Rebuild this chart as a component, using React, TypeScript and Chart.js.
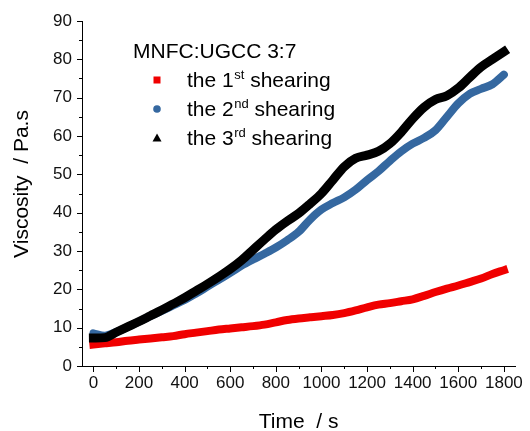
import React, { useEffect, useRef } from 'react';
import { Chart, registerables } from 'chart.js';

Chart.register(...registerables);

const times = [0, 50, 100, 150, 200, 250, 300, 350, 400, 450, 500, 550, 600, 650, 700, 750, 800, 850, 900, 950, 1000, 1050, 1100, 1150, 1200, 1250, 1300, 1350, 1400, 1450, 1500, 1550, 1600, 1650, 1700, 1750, 1800];
const shear1 = [5.6, 5.9, 6.2, 6.6, 6.9, 7.2, 7.5, 7.8, 8.3, 8.7, 9.1, 9.5, 9.8, 10.1, 10.4, 10.8, 11.4, 12.0, 12.4, 12.7, 13.0, 13.3, 13.8, 14.5, 15.3, 16.0, 16.4, 16.9, 17.4, 18.3, 19.3, 20.2, 21.0, 21.9, 22.8, 24.0, 25.0];
const shear2 = [8.5, 7.9, 8.9, 10.2, 11.6, 13.0, 14.4, 15.8, 17.2, 18.9, 20.7, 22.5, 24.3, 26.2, 27.8, 29.3, 30.9, 32.8, 35.0, 38.2, 40.8, 42.5, 44.0, 46.0, 48.5, 50.8, 53.5, 56.0, 58.0, 59.5, 61.5, 65.0, 68.5, 71.0, 72.3, 73.5, 76.0];
const shear3 = [7.3, 7.4, 8.8, 10.2, 11.6, 13.1, 14.6, 16.2, 17.8, 19.6, 21.4, 23.3, 25.3, 27.6, 30.3, 33.0, 35.6, 37.8, 39.8, 42.3, 45.0, 48.5, 52.0, 54.2, 55.0, 56.0, 58.0, 61.0, 64.5, 67.5, 69.5, 70.5, 72.5, 75.3, 78.0, 80.0, 82.0];

const legendTitle = 'MNFC:UGCC 3:7';
const legendMain = ['the 1', 'the 2', 'the 3'];
const legendSup = ['st', 'nd', 'rd'];
const legendTail = [' shearing', ' shearing', ' shearing'];
const seriesColors = ['#f00000', '#3568a0', '#000000'];
const markerShapes = ['square', 'circle', 'triangle'];

const xTitle = 'Time  / s';
const yTitle = 'Viscosity  / Pa.s';

const xMin = -50;
const xMax = 1850;
const xStep = 200;
const xMinorStep = 100;
const xTickLast = 1800;
const yMin = 0;
const yMax = 90;
const yStep = 10;
const yMinorStep = 5;

const FONT = "'Liberation Sans', Arial, sans-serif";

const decorPlugin = {
  id: 'decor',
  afterDraw(chart: any) {
    const { ctx, chartArea, scales } = chart;
    const x = scales.x;
    const y = scales.y;
    ctx.save();
    ctx.strokeStyle = '#000';
    ctx.lineWidth = 1;
    for (let v = yMin; v <= yMax + 1e-9; v += yMinorStep) {
      const py = Math.round(y.getPixelForValue(v)) + 0.5;
      const len = v % yStep === 0 ? 5 : 3;
      ctx.beginPath();
      ctx.moveTo(chartArea.left - len, py);
      ctx.lineTo(chartArea.left, py);
      ctx.stroke();
    }
    for (let t = 0; t <= xTickLast + 1e-9; t += xMinorStep) {
      const px = Math.round(x.getPixelForValue(t)) + 0.5;
      const len = t % xStep === 0 ? 6 : 3;
      ctx.beginPath();
      ctx.moveTo(px, chartArea.bottom);
      ctx.lineTo(px, chartArea.bottom + len);
      ctx.stroke();
    }

    ctx.fillStyle = '#000';
    ctx.font = `21px ${FONT}`;
    ctx.textAlign = 'center';
    ctx.textBaseline = 'alphabetic';
    ctx.fillText(xTitle, (chartArea.left + chartArea.right) / 2, 428);
    ctx.save();
    ctx.translate(28, 184);
    ctx.rotate(-Math.PI / 2);
    ctx.fillText(yTitle, 0, 0);
    ctx.restore();

    const lx = chartArea.left + 51;
    ctx.textAlign = 'left';
    ctx.font = `21px ${FONT}`;
    ctx.fillText(legendTitle, lx, 58);
    const baselines = [87, 116, 145];
    for (let i = 0; i < legendMain.length; i++) {
      const by = baselines[i];
      const mx = chartArea.left + 75;
      const my = by - 7;
      ctx.fillStyle = seriesColors[i];
      const shape = markerShapes[i];
      if (shape === 'square') {
        ctx.fillRect(mx - 3.5, my - 3.5, 7, 7);
      } else if (shape === 'circle') {
        ctx.beginPath();
        ctx.arc(mx, my, 3.8, 0, Math.PI * 2);
        ctx.fill();
      } else {
        ctx.beginPath();
        ctx.moveTo(mx, my - 4.5);
        ctx.lineTo(mx + 4.5, my + 3.5);
        ctx.lineTo(mx - 4.5, my + 3.5);
        ctx.closePath();
        ctx.fill();
      }
      ctx.fillStyle = '#000';
      let tx = chartArea.left + 105;
      ctx.font = `21px ${FONT}`;
      ctx.fillText(legendMain[i], tx, by);
      tx += ctx.measureText(legendMain[i]).width;
      ctx.font = `13px ${FONT}`;
      ctx.fillText(legendSup[i], tx + 0.5, by - 8);
      tx += ctx.measureText(legendSup[i]).width + 0.5;
      ctx.font = `21px ${FONT}`;
      ctx.fillText(legendTail[i], tx, by);
    }
    ctx.restore();
  },
};

export default function App() {
  const canvasRef = useRef<HTMLCanvasElement | null>(null);

  useEffect(() => {
    const canvas = canvasRef.current;
    if (!canvas) return;
    const mk = (vals: number[]) => times.map((t, i) => ({ x: t, y: vals[i] }));
    const chart = new Chart(canvas, {
      type: 'line',
      data: {
        datasets: [
          {
            label: 'the 1st shearing',
            data: mk(shear1),
            borderColor: seriesColors[0],
            backgroundColor: seriesColors[0],
            borderWidth: 8,
            borderCapStyle: 'square',
            pointRadius: 0,
            cubicInterpolationMode: 'monotone',
            order: 3,
          },
          {
            label: 'the 2nd shearing',
            data: mk(shear2),
            borderColor: seriesColors[1],
            backgroundColor: seriesColors[1],
            borderWidth: 8,
            borderCapStyle: 'round',
            pointRadius: 0,
            cubicInterpolationMode: 'monotone',
            order: 2,
          },
          {
            label: 'the 3rd shearing',
            data: mk(shear3),
            borderColor: seriesColors[2],
            backgroundColor: seriesColors[2],
            borderWidth: 9,
            borderCapStyle: 'square',
            pointRadius: 0,
            cubicInterpolationMode: 'monotone',
            order: 1,
          },
        ],
      },
      options: {
        responsive: false,
        animation: false,
        devicePixelRatio: 1,
        layout: { padding: { top: 21, right: 8, bottom: 0, left: 0 } },
        plugins: { legend: { display: false }, tooltip: { enabled: false } },
        scales: {
          x: {
            type: 'linear',
            min: xMin,
            max: xMax,
            grid: { display: false, drawTicks: false },
            border: { display: true, color: '#000', width: 1 },
            ticks: {
              stepSize: xStep,
              includeBounds: false,
              autoSkip: false,
              maxRotation: 0,
              padding: 7,
              color: '#111',
              font: { family: FONT, size: 17 },
              callback: (v: any) => String(v),
            },
            afterFit: (s: any) => { s.height = 65; },
          },
          y: {
            type: 'linear',
            min: yMin,
            max: yMax,
            grid: { display: false, drawTicks: false },
            border: { display: true, color: '#000', width: 1 },
            ticks: {
              stepSize: yStep,
              padding: 10,
              color: '#111',
              font: { family: FONT, size: 17 },
              callback: (v: any) => String(v),
            },
            afterFit: (s: any) => { s.width = 82; },
          },
        },
      },
      plugins: [decorPlugin],
    } as any);
    return () => chart.destroy();
  }, []);

  return (
    <div style={{ position: 'absolute', left: 0, top: 0, width: 530, height: 431, background: '#fff' }}>
      <canvas ref={canvasRef} width={530} height={431} />
    </div>
  );
}
